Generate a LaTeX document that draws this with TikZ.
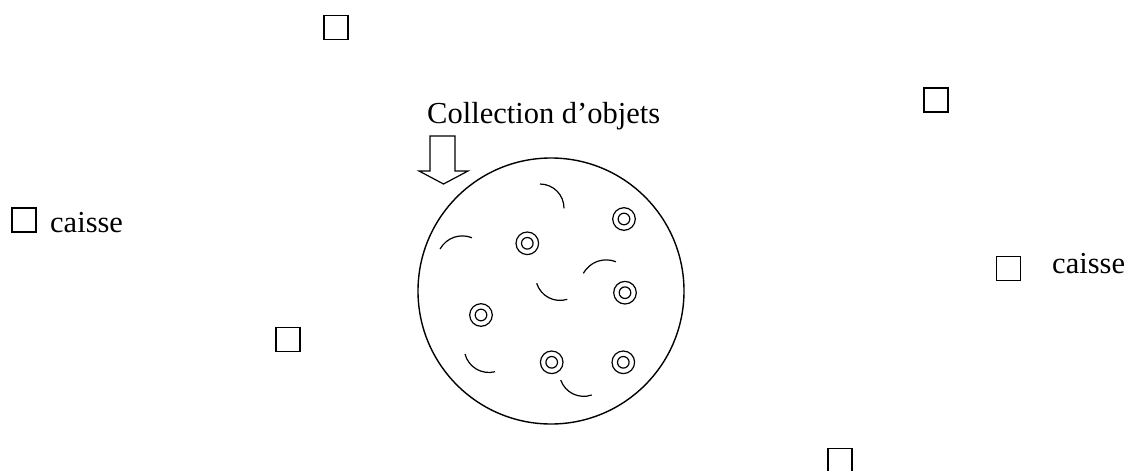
\documentclass[tikz,border=0pt]{standalone}
\usepackage{fontspec}
\setmainfont{Liberation Serif}
\begin{document}
\begin{tikzpicture}[x=1pt,y=-1pt,
  box/.style={draw,line width=1.9pt,minimum size=24pt,inner sep=0pt,outer sep=0pt},
  label/.style={anchor=base west,inner sep=0pt,font=\fontsize{30.5}{36}\selectfont},
  ring/.style={line width=1.2pt},
  curl/.style={line width=1.2pt},
  bigarrow/.style={draw,line width=1.2pt,line join=miter}
]
\useasboundingbox (0,0) rectangle (1129,471);

% crates scattered around
\node[box] (b1) at (336,27.5) {};
\node[box] (b2) at (936,100) {};
\node[box] (b3) at (24,220) {};
\node[box] (b4) at (288,339.5) {};
\node[box] (b6) at (1008.5,268.5) {};
% the lowest crate runs off the bottom edge
\begin{scope}
  \clip (0,0) rectangle (1129,470);
  \node[box] (b5) at (840,460.5) {};
\end{scope}

% labels
\node[label] (t1) at (50,232) {caisse};
\node[label] (t2) at (1052,273) {caisse};
\node[label] (t3) at (427,123) {Collection d’objets};

% block arrow pointing into the collection
\draw[bigarrow] (430,136) -- (455,136) -- (455,171) -- (468,171) -- (443.5,184)
  -- (419,171) -- (430,171) -- cycle;

% the collection
\node[draw,circle,line width=1.4pt,minimum size=266pt,inner sep=0pt] (coll) at (551,291) {};

% ring-shaped objects
\foreach \p in {(624,219),(527.3,243.3),(625,292.7),(481,315),(551.7,362.3),(623.3,362.3)} {
  \draw[ring] \p circle[radius=11.3pt];
  \draw[ring] \p circle[radius=5.8pt];
}

% curved objects
\draw[curl] (540,184) to[bend left=45] (564,208.3);
\draw[curl] (440,249) to[bend left=40] (472,237.7);
\draw[curl] (583.3,273.3) to[bend left=40] (616,261.7);
\draw[curl] (536.7,283.3) to[bend right=45] (567.3,299.3);
\draw[curl] (465,354) to[bend right=45] (495,371.7);
\draw[curl] (560.7,380) to[bend right=45] (591.7,395);
\end{tikzpicture}
\end{document}
